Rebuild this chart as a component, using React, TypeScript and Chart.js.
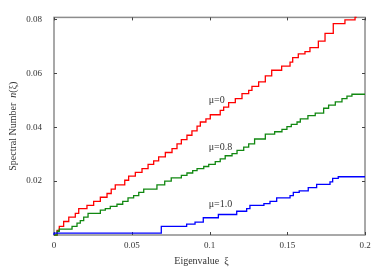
import React, { useEffect, useRef } from 'react';
import { Chart, registerables } from 'chart.js';
Chart.register(...registerables);

// Step points (eigenvalue ξ where a jump occurs, spectral number after the jump)
const redXi = [0, 0.002, 0.0034, 0.0062, 0.0095, 0.0137, 0.0159, 0.0212, 0.0255, 0.0298, 0.0341, 0.0368, 0.0394, 0.0455, 0.048, 0.0523, 0.0566, 0.0605, 0.0641, 0.0673, 0.0716, 0.0759, 0.0791, 0.0819, 0.0855, 0.0887, 0.092, 0.0941, 0.0977, 0.1005, 0.1069, 0.1091, 0.1123, 0.1166, 0.1209, 0.1252, 0.1273, 0.1316, 0.1359, 0.14, 0.1464, 0.1518, 0.1535, 0.1571, 0.1614, 0.1646, 0.17, 0.1743, 0.1796, 0.1871, 0.1936, 0.1946];
const redN = [0, 0, 0.0017, 0.0032, 0.005, 0.0066, 0.008, 0.0098, 0.011, 0.0125, 0.014, 0.0154, 0.017, 0.0186, 0.0203, 0.0218, 0.0232, 0.0246, 0.0262, 0.0275, 0.029, 0.0306, 0.032, 0.0338, 0.0354, 0.037, 0.0386, 0.0404, 0.0419, 0.0431, 0.0446, 0.0462, 0.0474, 0.0491, 0.0506, 0.0524, 0.0536, 0.0551, 0.0568, 0.059, 0.0611, 0.0626, 0.0641, 0.0658, 0.0672, 0.068, 0.0695, 0.0719, 0.0748, 0.0784, 0.0798, 0.0807];

const greenXi = [0, 0.002, 0.0034, 0.0116, 0.0148, 0.0169, 0.0191, 0.0219, 0.0298, 0.033, 0.0362, 0.0405, 0.0442, 0.0476, 0.0512, 0.0545, 0.0577, 0.0662, 0.0712, 0.0754, 0.0819, 0.0855, 0.0892, 0.092, 0.0963, 0.0995, 0.1037, 0.1069, 0.1101, 0.1145, 0.1177, 0.122, 0.1252, 0.129, 0.1359, 0.1419, 0.1466, 0.1498, 0.1526, 0.1563, 0.1584, 0.1633, 0.168, 0.1734, 0.1766, 0.1809, 0.1852, 0.1884, 0.1916, 0.1948, 0.2];
const greenN = [0, 0, 0.0014, 0.0022, 0.0032, 0.0044, 0.0053, 0.0066, 0.008, 0.0092, 0.0098, 0.0106, 0.0114, 0.0125, 0.0138, 0.0146, 0.0158, 0.017, 0.0186, 0.02, 0.0212, 0.0221, 0.023, 0.0239, 0.0246, 0.0254, 0.0262, 0.0272, 0.0282, 0.0294, 0.0302, 0.0314, 0.0326, 0.0338, 0.0356, 0.0374, 0.0383, 0.0392, 0.0402, 0.041, 0.0419, 0.0431, 0.0443, 0.0452, 0.047, 0.0482, 0.0494, 0.0506, 0.0515, 0.0522, 0.0522];

const blueXi = [0, 0.069, 0.0853, 0.0907, 0.096, 0.1057, 0.1175, 0.1239, 0.126, 0.135, 0.1389, 0.1432, 0.1518, 0.1539, 0.1577, 0.1635, 0.1689, 0.1775, 0.1792, 0.1828, 0.1878, 0.2];
const blueN = [0, 0.0007, 0.0032, 0.004, 0.0048, 0.0064, 0.0076, 0.0088, 0.0098, 0.011, 0.0116, 0.0125, 0.0138, 0.0146, 0.0158, 0.0164, 0.0176, 0.0188, 0.0197, 0.021, 0.0216, 0.0216];

const xTicks = [0, 0.05, 0.1, 0.15, 0.2];
const yTickStep = 0.02;
const yMax = 0.0807;

const labelTexts = ['μ=0', 'μ=0.8', 'μ=1.0'];
const labelXi = [0.0995, 0.0995, 0.0995];
const labelN = [0.05, 0.0324, 0.0114];

const SERIF = "'Liberation Serif', 'DejaVu Serif', serif";

const toPoints = (xs: number[], ys: number[]) => xs.map((x, i) => ({ x, y: ys[i] }));

const framePlugin = {
  id: 'frameTicks',
  beforeDatasetsDraw(chart: any) {
    const { ctx, chartArea: a, scales } = chart;
    ctx.save();
    ctx.strokeStyle = '#8c8c8c';
    ctx.lineWidth = 1.5;
    ctx.strokeRect(a.left, a.top, a.right - a.left, a.bottom - a.top);
    ctx.strokeStyle = '#444';
    ctx.lineWidth = 1;
    const tl = 3;
    scales.x.ticks.forEach((t: any) => {
      const x = Math.round(scales.x.getPixelForValue(t.value)) + 0.5;
      ctx.beginPath();
      ctx.moveTo(x, a.bottom); ctx.lineTo(x, a.bottom - tl);
      ctx.moveTo(x, a.top); ctx.lineTo(x, a.top + tl);
      ctx.stroke();
    });
    scales.y.ticks.forEach((t: any) => {
      if (t.value === 0) return;
      const y = Math.round(scales.y.getPixelForValue(t.value)) + 0.5;
      ctx.beginPath();
      ctx.moveTo(a.left, y); ctx.lineTo(a.left + tl, y);
      ctx.moveTo(a.right, y); ctx.lineTo(a.right - tl, y);
      ctx.stroke();
    });
    ctx.restore();
  },
  afterDatasetsDraw(chart: any) {
    const { ctx, scales, chartArea: a } = chart;
    ctx.save();
    ctx.fillStyle = '#333';
    ctx.font = `10px ${SERIF}`;
    ctx.textBaseline = 'middle';
    ctx.textAlign = 'left';
    labelTexts.forEach((t, i) => {
      ctx.fillText(t, scales.x.getPixelForValue(labelXi[i]), scales.y.getPixelForValue(labelN[i]));
    });
    // x axis title
    ctx.font = `10px ${SERIF}`;
    ctx.textAlign = 'center';
    ctx.fillText('Eigenvalue  ξ', (a.left + a.right) / 2 - 8, 261);
    // y axis title with italic n
    ctx.textAlign = 'left';
    const parts = [
      { t: 'Spectral Number  ', f: `10px ${SERIF}` },
      { t: 'n', f: `italic 10px ${SERIF}` },
      { t: '(ξ)', f: `10px ${SERIF}` },
    ];
    let total = 0;
    parts.forEach((p) => { ctx.font = p.f; total += ctx.measureText(p.t).width; });
    ctx.translate(13, (a.top + a.bottom) / 2);
    ctx.rotate(-Math.PI / 2);
    let x = -total / 2;
    parts.forEach((p) => { ctx.font = p.f; ctx.fillText(p.t, x, 0); x += ctx.measureText(p.t).width; });
    ctx.restore();
  },
};

export default function App() {
  const ref = useRef<HTMLCanvasElement>(null);
  useEffect(() => {
    if (!ref.current) return;
    const mk = (xs: number[], ys: number[], color: string) => ({
      data: toPoints(xs, ys),
      borderColor: color,
      backgroundColor: color,
      borderWidth: 1.3,
      pointRadius: 0,
      stepped: 'after' as const,
      fill: false,
      clip: false as const,
    });
    const chart = new Chart(ref.current, {
      type: 'line',
      data: {
        datasets: [
          mk(blueXi, blueN, '#0000ff'),
          mk(greenXi, greenN, '#118811'),
          mk(redXi, redN, '#ff0000'),
        ],
      },
      options: {
        animation: false,
        responsive: false,
        maintainAspectRatio: false,
        layout: { padding: { top: 3.6, right: 17, left: 0, bottom: 0 } },
        plugins: { legend: { display: false }, tooltip: { enabled: false } },
        scales: {
          x: {
            type: 'linear',
            min: 0,
            max: 0.2,
            afterFit: (s: any) => { s.height = 32; },
            afterBuildTicks: (s: any) => { s.ticks = xTicks.map((v) => ({ value: v })); },
            grid: { display: false, drawTicks: false },
            border: { display: false },
            ticks: {
              padding: 5,
              color: '#333',
              font: { family: SERIF, size: 9 },
              maxRotation: 0,
              callback: (v: any) => String(Number(Number(v).toFixed(2))),
            },
          },
          y: {
            type: 'linear',
            min: 0,
            max: yMax,
            afterFit: (s: any) => { s.width = 54; },
            grid: { display: false, drawTicks: false },
            border: { display: false },
            ticks: {
              stepSize: yTickStep,
              includeBounds: false,
              padding: 12,
              color: '#333',
              font: { family: SERIF, size: 9 },
              callback: (v: any) => (Number(v) === 0 ? '' : Number(v).toFixed(2)),
            },
          },
        },
      },
      plugins: [framePlugin],
    });
    return () => chart.destroy();
  }, []);
  return (
    <div style={{ position: 'fixed', left: 0, top: 0, width: 382, height: 267, background: '#fff' }}>
      <canvas ref={ref} width={382} height={267} style={{ width: 382, height: 267 }} />
    </div>
  );
}
